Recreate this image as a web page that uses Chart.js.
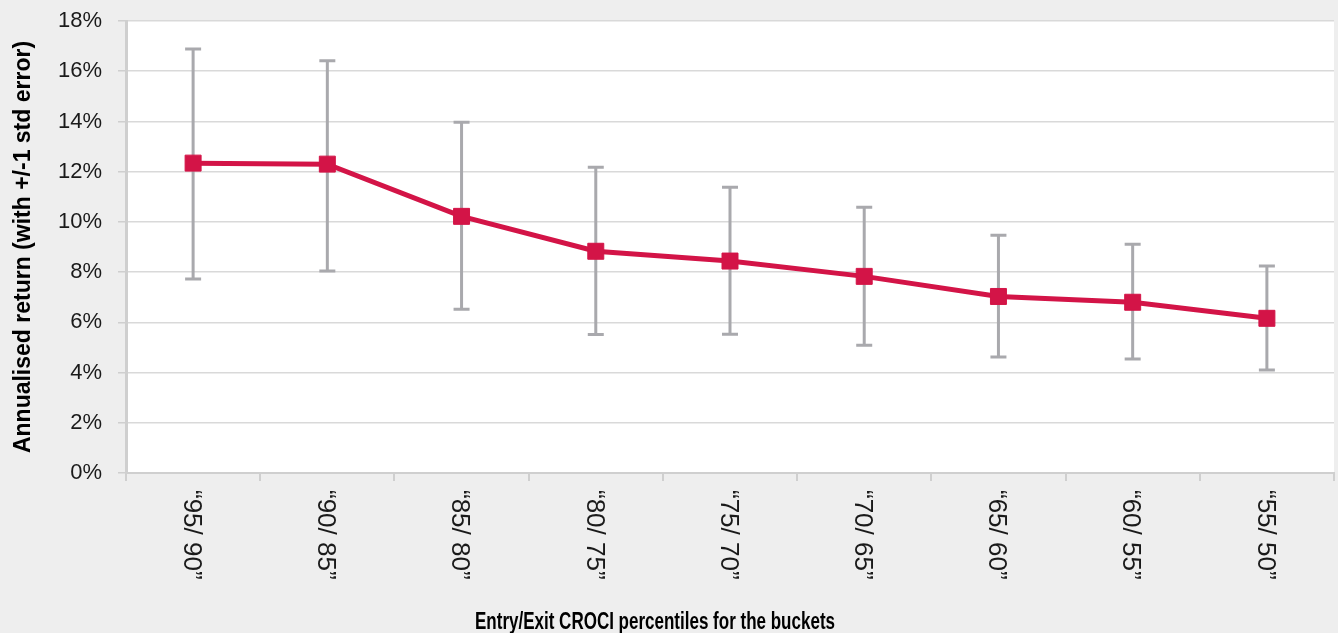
<!DOCTYPE html>
<html>
<head>
<meta charset="utf-8">
<script src="https://cdn.jsdelivr.net/npm/chart.js@4/dist/chart.umd.min.js"></script>
<style>
  html, body { margin: 0; padding: 0; background: #eeeeee; }
  #c { display: block; }
</style>
</head>
<body>
<canvas id="c" width="1338" height="633"></canvas>
<script>
// Entry/exit CROCI percentile buckets
const buckets = ['“95/ 90”', '“90/ 85”', '“85/ 80”', '“80/ 75”', '“75/ 70”', '“70/ 65”', '“65/ 60”', '“60/ 55”', '“55/ 50”'];
// Annualised return per bucket (%)
const annualReturn = [12.34, 12.30, 10.22, 8.83, 8.44, 7.83, 7.03, 6.80, 6.16];
// Return +1 / -1 standard error (%)
const upperBound = [16.88, 16.42, 13.97, 12.18, 11.38, 10.58, 9.47, 9.11, 8.24];
const lowerBound = [7.73, 8.04, 6.52, 5.52, 5.53, 5.09, 4.62, 4.54, 4.10];
// Value axis ticks (%)
const yTicks = [0, 2, 4, 6, 8, 10, 12, 14, 16, 18];

const yTitle = 'Annualised return (with +/-1 std error)';
const xTitle = 'Entry/Exit CROCI percentiles for the buckets';

const GRID = '#d9d9d9';
const AXIS = '#cfcfcf';

// Page and plot-area backgrounds
const backgrounds = {
  id: 'backgrounds',
  beforeDraw(chart) {
    const { ctx, chartArea: a } = chart;
    ctx.save();
    ctx.fillStyle = '#eeeeee';
    ctx.fillRect(0, 0, chart.width, chart.height);
    ctx.fillStyle = '#ffffff';
    ctx.fillRect(a.left, a.top, a.right - a.left, a.bottom - a.top);
    ctx.restore();
  }
};

// Vertical +/- 1 std error whiskers with caps
const errorBars = {
  id: 'errorBars',
  beforeDatasetsDraw(chart) {
    const { ctx, scales: { x, y } } = chart;
    ctx.save();
    ctx.strokeStyle = '#a9a9ad';
    ctx.lineWidth = 3;
    buckets.forEach((_, i) => {
      const px = x.getPixelForValue(i);
      const top = y.getPixelForValue(upperBound[i]);
      const bot = y.getPixelForValue(lowerBound[i]);
      ctx.beginPath();
      ctx.moveTo(px, top); ctx.lineTo(px, bot);
      ctx.moveTo(px - 8, top); ctx.lineTo(px + 8, top);
      ctx.moveTo(px - 8, bot); ctx.lineTo(px + 8, bot);
      ctx.stroke();
    });
    ctx.restore();
  }
};

// Category labels turned clockwise, plus the horizontal axis title
const xAxisText = {
  id: 'xAxisText',
  afterDraw(chart) {
    const { ctx, scales: { x }, chartArea: a } = chart;
    ctx.save();
    ctx.fillStyle = '#1a1a1a';
    ctx.font = '26px "Liberation Sans", Arial, sans-serif';
    ctx.textAlign = 'left';
    ctx.textBaseline = 'middle';
    buckets.forEach((lab, i) => {
      const px = x.getPixelForValue(i);
      ctx.save();
      ctx.translate(px - 2, a.bottom + 17);
      ctx.rotate(Math.PI / 2);
      ctx.fillText(lab, 0, 0);
      ctx.restore();
    });
    ctx.fillStyle = '#000000';
    ctx.font = 'bold 23px "Liberation Sans", Arial, sans-serif';
    ctx.textAlign = 'center';
    ctx.textBaseline = 'alphabetic';
    ctx.fillText(xTitle, 655, 629, 360);
    ctx.restore();
  }
};

new Chart(document.getElementById('c'), {
  type: 'line',
  data: {
    labels: buckets,
    datasets: [{
      data: annualReturn,
      borderColor: '#d31447',
      backgroundColor: '#d31447',
      borderWidth: 5,
      pointStyle: 'rect',
      pointRadius: 11.3,
      pointBorderWidth: 1,
      pointBorderColor: '#d31447',
      pointBackgroundColor: '#d31447',
      tension: 0,
      fill: false
    }]
  },
  options: {
    responsive: false,
    devicePixelRatio: 1,
    animation: false,
    layout: { autoPadding: false, padding: { top: 21, right: 4, bottom: 0, left: 0 } },
    plugins: { legend: { display: false }, tooltip: { enabled: false } },
    scales: {
      x: {
        type: 'category',
        offset: true,
        afterFit(s) {
          s.height = 160;
          s.paddingLeft = 0; s.paddingRight = 0;
        },
        grid: { offset: true, drawOnChartArea: false, drawTicks: true, tickLength: 8, color: AXIS, lineWidth: 2 },
        border: { display: true, color: AXIS, width: 2 },
        ticks: { display: false }
      },
      y: {
        min: 0,
        max: 18,
        afterFit(s) {
          s.width = 126;
          s.paddingTop = 0; s.paddingBottom = 0;
        },
        afterBuildTicks(s) { s.ticks = yTicks.map(v => ({ value: v })); },
        grid: { color: GRID, lineWidth: 1.5, tickLength: 8, tickColor: AXIS },
        border: { display: true, color: AXIS, width: 3 },
        ticks: {
          padding: 16,
          color: '#1a1a1a',
          font: { family: '"Liberation Sans", Arial, sans-serif', size: 22 },
          callback: v => v + '%'
        },
        title: {
          display: true,
          text: yTitle,
          color: '#000000',
          padding: { top: 10, bottom: 0 },
          font: { family: '"Liberation Sans", Arial, sans-serif', size: 23, weight: 'bold' }
        }
      }
    }
  },
  plugins: [backgrounds, errorBars, xAxisText]
});
</script>
</body>
</html>
